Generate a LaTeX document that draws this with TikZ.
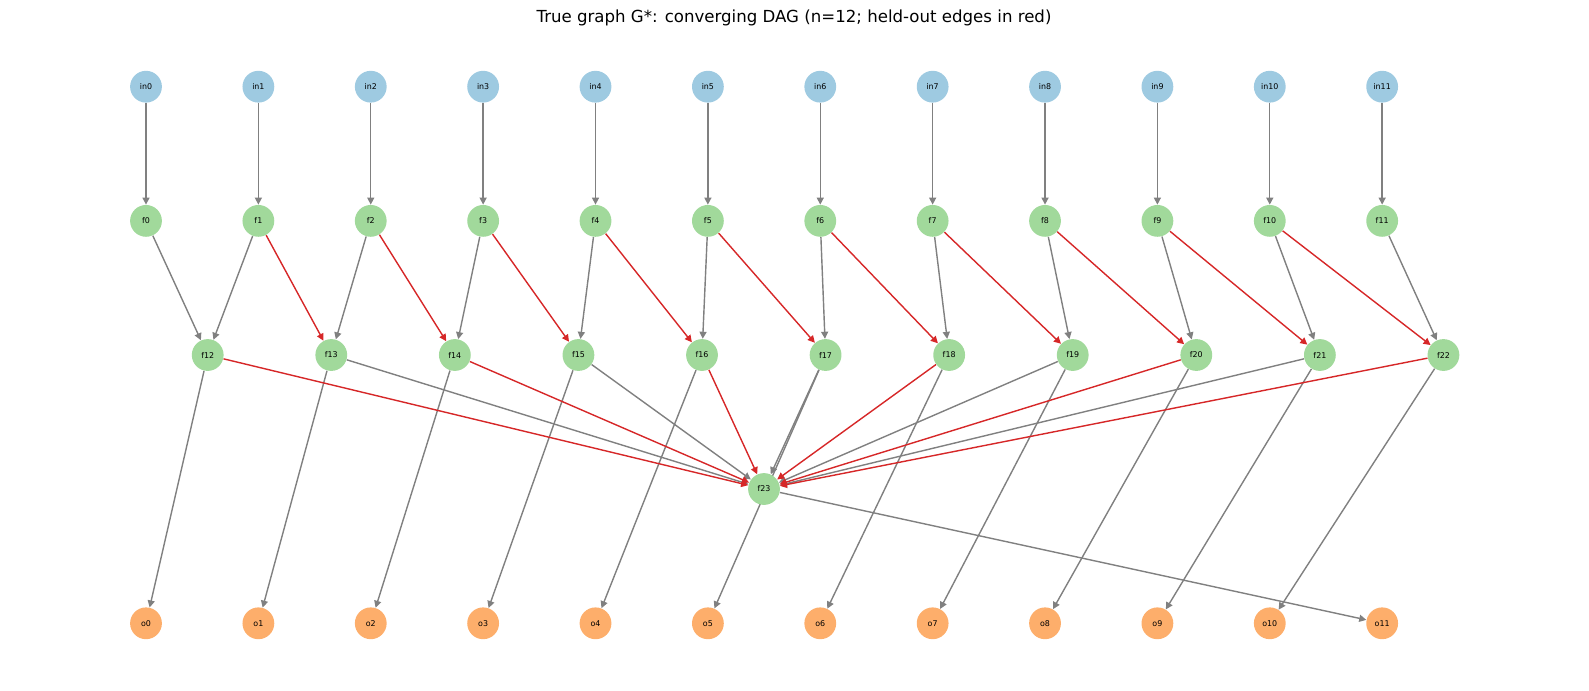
\documentclass[tikz,border=0pt]{standalone}
\usepackage{fontspec}
\setmainfont{DejaVu Sans}
\usetikzlibrary{arrows.meta, positioning, backgrounds}
\definecolor{inblue}{HTML}{9ECAE1}
\definecolor{hidgreen}{HTML}{A1D99B}
\definecolor{outorange}{HTML}{FDAE6B}
\definecolor{heldred}{HTML}{D62728}
\definecolor{edgegray}{HTML}{808080}

\begin{document}
\begin{tikzpicture}[
    x=0.02cm, y=-0.02cm,
    on grid,
    node distance=2.684cm and 2.248cm,
    vnode/.style={circle, minimum size=18.1pt, inner sep=0pt,
                  font=\fontsize{4.5}{5}\selectfont},
    inp/.style={vnode, fill=inblue},
    hid/.style={vnode, fill=hidgreen},
    outp/.style={vnode, fill=outorange},
    arr/.style={-{Triangle[length=4pt, width=4pt]}, line width=0.8pt, edgegray},
    heldout/.style={arr, heldred},
]
\useasboundingbox (0,0) rectangle (1589,690);

\node[font=\fontsize{9.45}{11}\selectfont] (title) at (794,18)
    {True graph G*: converging DAG (n=12; held-out edges in red)};

% input and first layer
\node[inp] (in0) at (146,86.7) {in0};
\node[hid, below=of in0] (f0) {f0};
\node[outp, below=8.05cm of f0] (o0) {o0};
\foreach \i [remember=\i as \p (initially 0)] in {1,...,11} {
    \node[inp, right=of in\p] (in\i) {in\i};
    \node[hid, below=of in\i] (f\i) {f\i};
    \node[outp, below=8.05cm of f\i] (o\i) {o\i};
}

% middle layer and sink
\node[hid] (f12) at (207.7,355) {f12};
\foreach \i [remember=\i as \p (initially 12)] in {13,...,22}
    \node[hid, right=2.472cm of f\p] (f\i) {f\i};
\node[hid] (f23) at (764,489) {f23};

\begin{scope}[on background layer]
\foreach \i in {0,...,11} \draw[arr] (in\i) -- (f\i);
\draw[arr] (f0) -- (f12);
\draw[arr] (f1) -- (f12);
\foreach \k [evaluate=\k as \t using int(12+\k), evaluate=\k as \nx using int(\k+1)] in {1,...,10}
    \draw[arr] (f\nx) -- (f\t);
\foreach \k [evaluate=\k as \t using int(12+\k)] in {1,3,...,9}
    \draw[arr] (f\t) -- (f23);
\foreach \k [evaluate=\k as \t using int(12+\k)] in {0,...,10}
    \draw[arr] (f\t) -- (o\k);
\draw[arr] (f23) -- (o11);
% held-out edges
\foreach \k [evaluate=\k as \t using int(12+\k)] in {1,...,10}
    \draw[heldout] (f\k) -- (f\t);
\foreach \k [evaluate=\k as \t using int(12+\k)] in {0,2,...,10}
    \draw[heldout] (f\t) -- (f23);
\end{scope}
\end{tikzpicture}
\end{document}
